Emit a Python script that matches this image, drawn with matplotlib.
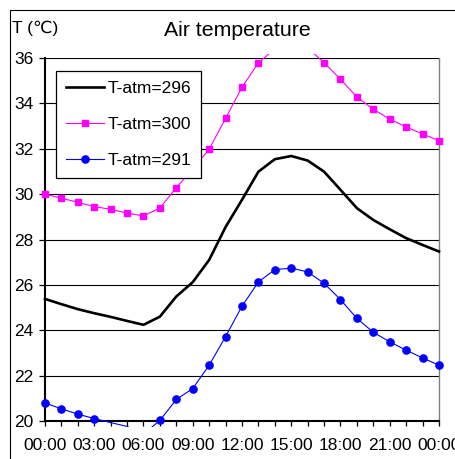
import matplotlib
matplotlib.use("Agg")
import matplotlib.pyplot as plt
from matplotlib.lines import Line2D
from matplotlib.patches import Rectangle
from matplotlib.ticker import MultipleLocator, FixedLocator

plt.rcParams['font.family'] = ['Liberation Sans', 'DejaVu Sans']

# Hourly air temperature (deg C) over one day, 00:00 .. 24:00
hours = list(range(25))
tick_hours = [0, 3, 6, 9, 12, 15, 18, 21, 24]
tick_labels = ["00:00", "03:00", "06:00", "09:00", "12:00",
               "15:00", "18:00", "21:00", "00:00"]

t_296 = [25.38, 25.15, 24.93, 24.75, 24.59, 24.41, 24.24, 24.60, 25.49,
         26.12, 27.10, 28.55, 29.75, 30.99, 31.54, 31.68, 31.48, 30.99,
         30.19, 29.38, 28.86, 28.45, 28.06, 27.76, 27.47]
t_300 = [30.00, 29.82, 29.64, 29.45, 29.33, 29.16, 29.04, 29.39, 30.29,
         31.10, 31.98, 33.34, 34.71, 35.79, 36.40, 36.60, 36.45, 35.79,
         35.06, 34.28, 33.74, 33.31, 32.96, 32.65, 32.36]
t_291 = [20.79, 20.54, 20.30, 20.11, 19.93, 19.76, 19.42, 20.03, 20.95,
         21.43, 22.46, 23.72, 25.06, 26.13, 26.67, 26.74, 26.57, 26.07,
         25.35, 24.52, 23.91, 23.49, 23.12, 22.78, 22.46]

labels = ["T-atm=296", "T-atm=300", "T-atm=291"]
y_min, y_max = 20, 36
fs = 12.5

W, H = 456, 459
fig = plt.figure(figsize=(W / 100, H / 100), dpi=100)
ax = fig.add_axes([45 / W, 1 - 421 / H, 394 / W, 363 / H])
ax.set_xlim(0, 24)
ax.set_ylim(y_min, y_max)

# outer chart frame
fig.patches.append(Rectangle((10 / W, -0.05), 1.2, 1 - 10 / H + 0.05,
                             transform=fig.transFigure, fill=False,
                             edgecolor='black', linewidth=0.8))

# lines may spill a few pixels past the plotting area before being cut
clip = Rectangle((-1, 19.75), 26, 36.19 - 19.75, transform=ax.transData,
                 fill=False, visible=False)
ax.add_patch(clip)


def draw(values, color, lw, marker=None, ms=0):
    ln, = ax.plot(hours, values, color=color, linewidth=lw, zorder=3)
    ln.set_clip_path(clip)
    if marker:
        shown = [y_min <= v <= y_max for v in values]
        ax.plot(hours, values, linestyle='none', marker=marker,
                markersize=ms, color=color, markevery=shown,
                clip_on=False, zorder=4)


draw(t_296, 'black', 1.9)
draw(t_300, '#FF00FF', 0.8, 's', 5.0)
draw(t_291, '#0000FF', 0.8, 'o', 5.2)

ax.yaxis.set_major_locator(MultipleLocator(2))
ax.xaxis.set_major_locator(FixedLocator(tick_hours))
ax.xaxis.set_minor_locator(MultipleLocator(1))
ax.set_xticklabels(tick_labels)
ax.grid(axis='y', color='black', linewidth=0.8)
ax.set_axisbelow(True)

ax.tick_params(axis='both', which='both', direction='out', colors='black',
               labelsize=fs)
ax.tick_params(axis='x', which='both', length=3.5, width=0.9, pad=9)
ax.tick_params(axis='y', which='major', length=4.5, width=0.9, pad=4)

ax.spines['top'].set_visible(False)
ax.spines['right'].set_color('#808080')
ax.spines['right'].set_linewidth(1.0)
for s in ('left', 'bottom'):
    ax.spines[s].set_linewidth(1.5)
    ax.spines[s].set_color('black')

fig.text(12 / W, 1 - 33 / H, "T (\u2103)", fontsize=fs, ha='left',
         va='baseline')
fig.text(237 / W, 1 - 36.5 / H, "Air temperature", fontsize=15.3,
         ha='center', va='baseline')

handles = [
    Line2D([], [], color='black', linewidth=1.9),
    Line2D([], [], color='#FF00FF', linewidth=0.8, marker='s', markersize=5.0),
    Line2D([], [], color='#0000FF', linewidth=0.8, marker='o', markersize=5.2),
]
leg = ax.legend(handles, labels, loc='upper left',
                bbox_to_anchor=(56 / W, 1 - 71 / H),
                bbox_transform=fig.transFigure, fontsize=fs,
                frameon=True, fancybox=False, shadow=False,
                edgecolor='black', framealpha=1, borderpad=0.55,
                handlelength=2.2, handletextpad=0.2, labelspacing=1.22,
                borderaxespad=0)
leg.get_frame().set_linewidth(0.9)
leg.set_zorder(10)

fig.savefig("out.png", dpi=100)
